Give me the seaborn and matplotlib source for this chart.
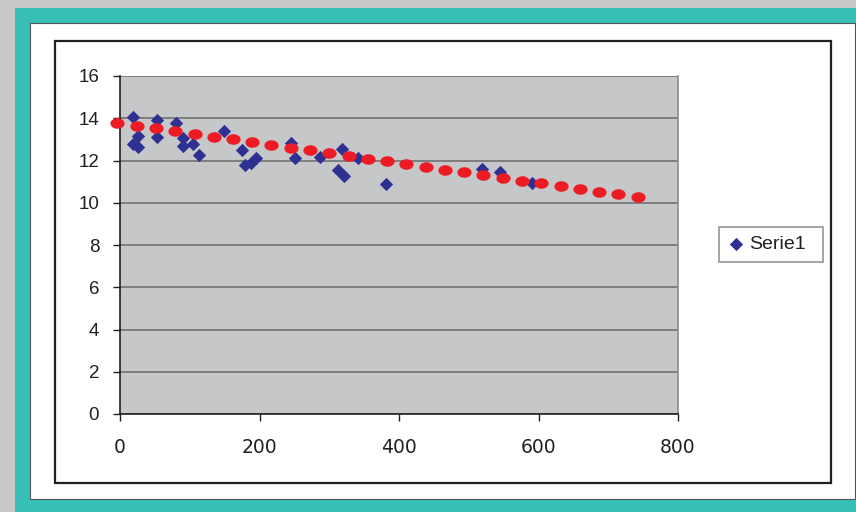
import matplotlib.pyplot as plt
import numpy as np
import pandas as pd
import seaborn as sns
from matplotlib.patches import Rectangle
from matplotlib.path import Path

# Serie1 measurements (blue diamonds)
serie1_x = [18.6, 26.3, 18.6, 25.8, 52.6, 52.6, 80, 90.8, 90.8, 105, 113,
            148.6, 175.3, 179, 188, 195, 244.7, 250.9, 286.7, 317.8, 341.7,
            313, 321, 381, 518.5, 544.8, 591]
serie1_y = [14.06, 13.17, 12.78, 12.64, 13.92, 13.1, 13.78, 13.05, 12.70, 12.76, 12.26,
            13.40, 12.50, 11.81, 11.88, 12.12, 12.81, 12.10, 12.15, 12.53, 12.10,
            11.55, 11.28, 10.89, 11.58, 11.47, 10.95]

# fitted series (red dots)
fit_x = [-3.9, 23.9, 51.6, 79.3, 107.1, 134.3, 162.0, 189.2, 216.9, 244.7,
         272.4, 300.1, 327.9, 355.6, 382.8, 410.5, 438.3, 465.5, 493.2, 520.9,
         548.7, 576.3, 604.0, 631.8, 659.0, 686.7, 714.4, 742.2]
fit_y = [13.79, 13.65, 13.52, 13.40, 13.27, 13.13, 13.00, 12.88, 12.75, 12.61,
         12.48, 12.36, 12.23, 12.09, 11.96, 11.82, 11.69, 11.56, 11.44, 11.31,
         11.17, 11.04, 10.92, 10.78, 10.65, 10.52, 10.40, 10.27]

x_ticks = [0, 200, 400, 600, 800]
y_ticks = [0, 2, 4, 6, 8, 10, 12, 14, 16]

serie_df = pd.DataFrame({'x': serie1_x, 'y': serie1_y})
fit_df = pd.DataFrame({'x': fit_x, 'y': fit_y})

sns.set_style('white')
plt.rcParams['font.family'] = ['Liberation Sans', 'DejaVu Sans']

W, H = 856, 512
fig = plt.figure(figsize=(W / 100, H / 100), dpi=100, facecolor='#c9c9c9')

def px_rect(x0, y0, x1, y1, **kw):
    # rectangle given in pixel coords (top-left origin)
    r = Rectangle((x0 / W, 1 - y1 / H), (x1 - x0) / W, (y1 - y0) / H,
                  transform=fig.transFigure, figure=fig, **kw)
    fig.patches.append(r)

px_rect(15, 8, 860, 520, facecolor='#38bfb8', edgecolor='none', zorder=0)
px_rect(30, 23, 854.5, 499, facecolor='white', edgecolor='#555555', linewidth=0.8, zorder=1)
px_rect(55, 41, 831, 483, facecolor='white', edgecolor='#231f20', linewidth=1.6, zorder=2)

ax = fig.add_axes([120 / W, 1 - 414 / H, 558 / W, 338 / H])
ax.set_zorder(5)
ax.set_facecolor('#c6c7c9')

# elliptical marker for the red series
t = np.linspace(0, 2 * np.pi, 50)
ellipse = Path(np.column_stack([1.35 * np.cos(t), np.sin(t)]), closed=True)

sns.scatterplot(data=serie_df, x='x', y='y', ax=ax, marker='D', s=46,
                color='#2e3192', linewidth=0, label='Serie1', clip_on=False, zorder=3)
sns.scatterplot(data=fit_df, x='x', y='y', ax=ax, marker=ellipse, s=105,
                color='#ed1c24', linewidth=0, legend=False, clip_on=False, zorder=4)

ax.set_xlim(0, 800)
ax.set_ylim(0, 16)
ax.set_xticks(x_ticks)
ax.set_yticks(y_ticks)
ax.set_xlabel('')
ax.set_ylabel('')

ax.grid(axis='y', color='#6a6a6a', linewidth=1.1)
ax.grid(axis='x', visible=False)
ax.set_axisbelow(True)

for side in ['left', 'bottom']:
    ax.spines[side].set_color('#231f20')
    ax.spines[side].set_linewidth(1.2)
ax.spines['top'].set_visible(False)
ax.spines['right'].set_color('#8a8a8a')
ax.spines['right'].set_linewidth(1.2)

ax.tick_params(axis='both', direction='out', length=5, width=1, color='#231f20',
               labelcolor='#231f20', left=True, bottom=True)
ax.tick_params(axis='y', pad=10, labelsize=13.5)
ax.tick_params(axis='x', pad=12, labelsize=13.5)
for lab in ax.get_xticklabels():
    lab.set_family('DejaVu Sans')

leg = ax.legend(loc='center', bbox_to_anchor=(719 / W, 1 - 263 / H, 104 / W, 37 / H),
                bbox_transform=fig.transFigure, mode='expand', frameon=True,
                fancybox=False, edgecolor='#7a7a7a', fontsize=14, borderpad=0.45,
                handletextpad=0.3, handlelength=0.8, borderaxespad=0)
leg.get_frame().set_linewidth(1.2)
for txt in leg.get_texts():
    txt.set_color('#231f20')

fig.savefig('out.png', dpi=100, facecolor=fig.get_facecolor())
